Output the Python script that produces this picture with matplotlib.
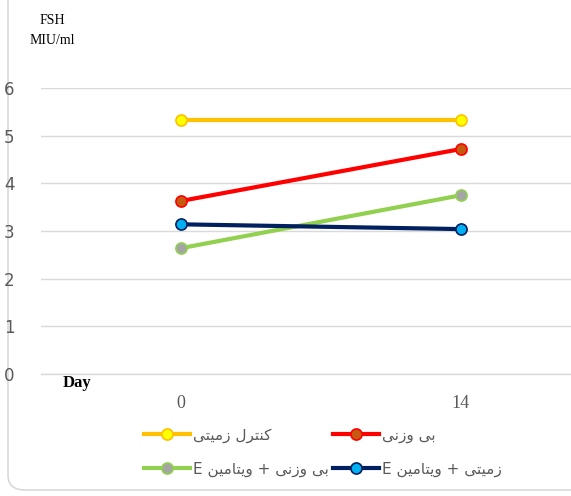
import matplotlib
matplotlib.use('Agg')
import matplotlib.pyplot as plt
from matplotlib.patches import FancyBboxPatch

# Data
days = ['0', '14']
control = [5.33, 5.33]
weightless = [3.63, 4.72]
weightless_vit = [2.64, 3.75]
control_vit = [3.14, 3.04]

# Persian labels, written in shaped presentation forms (visual order)
w_zamini = '\uFEF0\uFE98\uFEF4\uFEE3\uFEAF'          # زمیتی
w_control = '\uFEDD\uFEAE\uFE98\uFEE8\uFEDB'         # کنترل
w_bi = '\uFEF0\uFE91'                                # بی
w_vazni = '\uFEF0\uFEE7\uFEAF\uFEED'                 # وزنی
w_vitamin = '\uFEE6\uFEF4\uFEE3\uFE8E\uFE98\uFEF3\uFEED'  # ویتامین

labels = [
    w_zamini + ' ' + w_control,
    w_vazni + ' ' + w_bi,
    'E ' + w_vitamin + ' + ' + w_vazni + ' ' + w_bi,
    'E ' + w_vitamin + ' + ' + w_zamini,
]

fig = plt.figure(figsize=(5.71, 4.96), dpi=100)

# chart frame (rounded corner bottom-left, cropped at top/right)
frame = FancyBboxPatch((8 / 571, 6 / 496), 1.2, 1.2, boxstyle='round,pad=0,rounding_size=0.03',
                       transform=fig.transFigure, facecolor='white', edgecolor='#D9D9D9',
                       linewidth=1.2, zorder=-10)
fig.patches.append(frame)

ax = fig.add_axes([41 / 571, 122 / 496, 530 / 571, 286 / 496])
ax.set_facecolor('none')

x = range(len(days))
styles = [
    (control, '#FFC000', '#FFFF00'),
    (weightless, '#FF0000', '#C55A11'),
    (weightless_vit, '#92D050', '#A5A5A5'),
    (control_vit, '#002060', '#00B0F0'),
]
handles = []
for (vals, lc, mc), lab in zip(styles, labels):
    h, = ax.plot(x, vals, color=lc, linewidth=3, marker='o', markersize=8,
                 markerfacecolor=mc, markeredgecolor=lc, markeredgewidth=1.2,
                 label=lab, zorder=3)
    handles.append(h)

ax.set_xlim(-0.5, 1.393)
ax.set_ylim(0, 6)
ax.set_yticks(range(0, 7))
ax.yaxis.grid(True, color='#D9D9D9', linewidth=1)
ax.set_axisbelow(True)
for s in ['top', 'right', 'left']:
    ax.spines[s].set_visible(False)
ax.spines['bottom'].set_color('#D9D9D9')
ax.spines['bottom'].set_linewidth(1)

ax.set_xticks(list(x))
ax.set_xticklabels(days, fontfamily='Liberation Serif', fontsize=13, color='#595959')
ax.tick_params(axis='x', length=0, pad=15)
ax.tick_params(axis='y', length=0, pad=19, labelsize=12, labelcolor='#595959')

fig.text(52 / 571, 1 - 20 / 496, 'FSH', ha='center', va='center',
         fontfamily='Liberation Serif', fontsize=10)
fig.text(52 / 571, 1 - 40 / 496, 'MIU/ml', ha='center', va='center',
         fontfamily='Liberation Serif', fontsize=10)
fig.text(77 / 571, 1 - 383 / 496, 'Day', ha='center', va='center',
         fontfamily='Liberation Serif', fontsize=12, fontweight='bold')

leg = fig.legend([handles[0], handles[2], handles[1], handles[3]],
                 [labels[0], labels[2], labels[1], labels[3]],
                 ncol=2, loc='upper left', bbox_to_anchor=(130 / 571, 1 - 414 / 496),
                 frameon=False, fontsize=11, handlelength=3.0, handletextpad=0.2,
                 columnspacing=0.3, labelspacing=1.2)
for t in leg.get_texts():
    t.set_color('#595959')
    t.set_fontfamily('DejaVu Sans')

fig.savefig('out.png', dpi=100)
